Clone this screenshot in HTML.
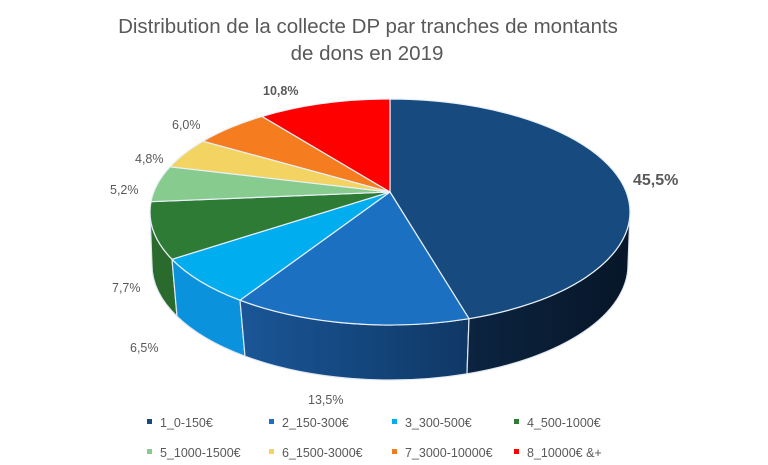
<!DOCTYPE html>
<html><head><meta charset="utf-8"><style>
body{margin:0;background:#fff}
svg{display:block}
text{font-family:"Liberation Sans",sans-serif;fill:#595959}
</style></head><body>
<svg width="768" height="465" viewBox="0 0 768 465" xmlns="http://www.w3.org/2000/svg">
<defs>
<linearGradient id="g2" x1="0" x2="1" y1="0" y2="0"><stop offset="0" stop-color="#1a5697"/><stop offset="1" stop-color="#0f3865"/></linearGradient>
<linearGradient id="g1" x1="0" x2="1" y1="0" y2="0"><stop offset="0" stop-color="#0c2440"/><stop offset="1" stop-color="#071628"/></linearGradient>
</defs>
<text x="368" y="33" font-size="20.5" text-anchor="middle">Distribution de la collecte DP par tranches de montants</text>
<text x="367" y="60" font-size="20.5" text-anchor="middle">de dons en 2019</text>
<!-- sides -->
<g stroke="#dfe8f2" stroke-width="1.2">
<path d="M150,212 A240,113 0 0 0 172,259.3 L177,316.3 A238,115 0 0 1 152,265 Z" fill="#2a6a2c"/>
<path d="M172,259.3 A240,113 0 0 0 240,300.2 L245,356.2 A238,115 0 0 1 177,316.3 Z" fill="#0a92dc"/>
<path d="M240,300.2 A240,113 0 0 0 469,318.7 L467,373.8 A238,115 0 0 1 245,356.2 Z" fill="url(#g2)"/>
<path d="M469,318.7 A240,113 0 0 0 630,212 L628,265 A238,115 0 0 1 467,373.8 Z" fill="url(#g1)"/>
</g>
<!-- top -->
<g stroke="#e8f0f8" stroke-width="1.2" stroke-linejoin="round">
<path d="M390,192 L390,99 A240,113 0 0 1 630,212 A240,113 0 0 1 469,318.7 Z" fill="#174a7e"/>
<path d="M390,192 L469,318.7 A240,113 0 0 1 240,300.2 Z" fill="#1b70c2"/>
<path d="M390,192 L240,300.2 A240,113 0 0 1 172,259.3 Z" fill="#00aef0"/>
<path d="M390,192 L172,259.3 A240,113 0 0 1 150,212 A240,113 0 0 1 151,201.7 Z" fill="#2e7b35"/>
<path d="M390,192 L151,201.7 A240,113 0 0 1 170,166.8 Z" fill="#88cb8f"/>
<path d="M390,192 L170,166.8 A240,113 0 0 1 203,141.2 Z" fill="#f3d462"/>
<path d="M390,192 L203,141.2 A240,113 0 0 1 262,116.4 Z" fill="#f67c20"/>
<path d="M390,192 L262,116.4 A240,113 0 0 1 390,99 Z" fill="#ff0000"/>
</g>
<text x="633" y="185" font-size="16" font-weight="bold" fill="#404040">45,5%</text>
<text x="263" y="95" font-size="12.5" font-weight="bold" fill="#404040">10,8%</text>
<text x="172" y="129" font-size="12.5">6,0%</text>
<text x="135" y="163" font-size="12.5">4,8%</text>
<text x="110" y="194" font-size="12.5">5,2%</text>
<text x="112" y="292" font-size="12.5">7,7%</text>
<text x="130" y="352" font-size="12.5">6,5%</text>
<text x="308" y="404" font-size="12.5">13,5%</text>
<g font-size="12.5">
<rect x="147" y="419" width="5" height="5" fill="#174a7e"/><text x="160" y="427">1_0-150€</text>
<rect x="269" y="419" width="5" height="5" fill="#1b70c2"/><text x="282" y="427">2_150-300€</text>
<rect x="392" y="419" width="5" height="5" fill="#00aef0"/><text x="405" y="427">3_300-500€</text>
<rect x="514" y="419" width="5" height="5" fill="#2e7b35"/><text x="527" y="427">4_500-1000€</text>
<rect x="147" y="449" width="5" height="5" fill="#88cb8f"/><text x="160" y="457">5_1000-1500€</text>
<rect x="269" y="449" width="5" height="5" fill="#f3d462"/><text x="282" y="457">6_1500-3000€</text>
<rect x="392" y="449" width="5" height="5" fill="#f67c20"/><text x="405" y="457">7_3000-10000€</text>
<rect x="514" y="449" width="5" height="5" fill="#ff0000"/><text x="527" y="457">8_10000€ &amp;+</text>
</g>
</svg>
</body></html>
